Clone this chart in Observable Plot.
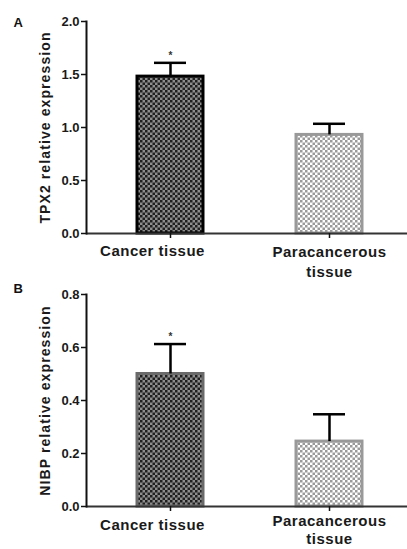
<!DOCTYPE html>
<html>
<head>
<meta charset="utf-8">
<script src="https://cdn.jsdelivr.net/npm/d3@7"></script>
<script src="https://cdn.jsdelivr.net/npm/@observablehq/plot@0.6"></script>
<style>
  html, body { margin: 0; padding: 0; background: #fff; }
  #charts svg { display: block; overflow: visible; }
  .xlab text { letter-spacing: 0.5px; }
  .ylab text { letter-spacing: 1.1px; }
</style>
</head>
<body>
<svg width="0" height="0" style="position:absolute">
  <defs>
    <pattern id="dark" patternUnits="userSpaceOnUse" width="5" height="5">
      <rect width="5" height="5" fill="#8e8e8e"></rect>
      <rect x="0" y="0" width="2.5" height="2.5" fill="#202020"></rect>
      <rect x="2.5" y="2.5" width="2.5" height="2.5" fill="#202020"></rect>
    </pattern>
    <pattern id="light" patternUnits="userSpaceOnUse" width="5" height="5">
      <rect width="5" height="5" fill="#ffffff"></rect>
      <rect x="0" y="0" width="2.5" height="2.5" fill="#9a9a9a"></rect>
      <rect x="2.5" y="2.5" width="2.5" height="2.5" fill="#9a9a9a"></rect>
    </pattern>
  </defs>
</svg>
<div id="charts"></div>
<script>
// ---- data ----
const categories = ["Cancer tissue", "Paracancerous tissue"];
const xLabels = ["Cancer tissue", "Paracancerous\ntissue"];
const tpx2Mean = [1.48, 0.93];
const tpx2Err = [0.13, 0.105];
const nibpMean = [0.50, 0.245];
const nibpErr = [0.113, 0.103];
const yTicksA = [0, 0.5, 1.0, 1.5, 2.0];
const yTicksB = [0, 0.2, 0.4, 0.6, 0.8];
const significant = [true, false];

const FONT = "'Liberation Sans', Arial, Helvetica, sans-serif";

function panel(opts) {
  const rows = categories.map((c, i) => ({
    cat: c, label: xLabels[i], value: opts.means[i], err: opts.errs[i],
    fill: opts.fills[i], stroke: opts.strokes[i], sig: significant[i]
  }));
  return Plot.plot({
    width: 407,
    height: opts.height,
    marginLeft: 86,
    marginRight: 0,
    marginTop: opts.marginTop,
    marginBottom: opts.marginBottom,
    style: { fontFamily: FONT, color: "#111", background: "transparent", overflow: "visible" },
    x: { domain: categories, range: [86, 412.7], paddingInner: 0.586, paddingOuter: 0.317, align: 0.5, axis: null },
    y: { domain: [0, opts.ticks[opts.ticks.length - 1]], axis: null },
    color: { type: "identity" },
    marks: [
      Plot.barY(rows, { x: "cat", y: "value", fill: "fill", stroke: "stroke", strokeWidth: 3 }),
      Plot.ruleX(rows, { x: "cat", y1: "value", y2: d => d.value + d.err, stroke: "#000", strokeWidth: 2.5 }),
      Plot.tickY(rows, { x: "cat", y: d => d.value + d.err, stroke: "#000", strokeWidth: 2.5, insetLeft: 17, insetRight: 17 }),
      Plot.text(rows.filter(d => d.sig), { x: "cat", y: d => d.value + d.err, text: () => "*", dy: -7, fontSize: 10, fontWeight: "bold", fill: "#333" }),
      Plot.ruleY([0], { stroke: "#333", strokeWidth: 2 }),
      Plot.frame({ anchor: "left", stroke: "#111", strokeWidth: 2 }),
      Plot.axisY({ ticks: opts.ticks, tickFormat: d3.format(".1f"), tickSize: 5, tickPadding: 2, fontSize: 13, fontWeight: "bold", label: null, strokeWidth: 1.5, fill: "#1a1a1a" }),
      Plot.axisX({ tickSize: 5, tickFormat: () => "", label: null, strokeWidth: 1.5 }),
      Plot.text(rows, { filter: (d, i) => i === 0, x: "cat", text: "label", frameAnchor: "bottom", textAnchor: "middle", lineAnchor: "top", dy: opts.labelDy, dx: -18, fontSize: 15, fontWeight: "bold", fill: "#1a1a1a", className: "xlab" }),
      Plot.text(rows, { filter: (d, i) => i === 1, x: "cat", text: "label", frameAnchor: "bottom", textAnchor: "middle", lineAnchor: "top", dy: opts.paraDy, dx: 0, fontSize: 15, fontWeight: "bold", lineHeight: opts.lineHeight, fill: "#1a1a1a", className: "xlab" }),
      Plot.text([opts.yLabel], { text: d => d, frameAnchor: "left", textAnchor: "middle", lineAnchor: "middle", rotate: -90, dx: -41, fontSize: 14, fontWeight: "bold", fill: "#1a1a1a", className: "ylab" }),
      Plot.text([opts.letter], { text: d => d, frameAnchor: "top-left", textAnchor: "start", lineAnchor: "top", dx: -73, dy: opts.letterDy, fontSize: 13, fontWeight: "bold", fill: "#111" })
    ]
  });
}

const charts = document.getElementById("charts");
charts.appendChild(panel({
  means: tpx2Mean, errs: tpx2Err, ticks: yTicksA,
  fills: ["url(#dark)", "url(#light)"], strokes: ["#000", "#999"],
  yLabel: "TPX2 relative expression", letter: "A",
  height: 275, marginTop: 21, marginBottom: 42, labelDy: 12, paraDy: 9, lineHeight: 1.33, letterDy: -4
}));
charts.appendChild(panel({
  means: nibpMean, errs: nibpErr, ticks: yTicksB,
  fills: ["url(#dark)", "url(#light)"], strokes: ["#6a6a6a", "#999"],
  yLabel: "NIBP relative expression", letter: "B",
  height: 274, marginTop: 19, marginBottom: 43, labelDy: 13, paraDy: 6, lineHeight: 1.22, letterDy: -11
}));
</script>
</body>
</html>
